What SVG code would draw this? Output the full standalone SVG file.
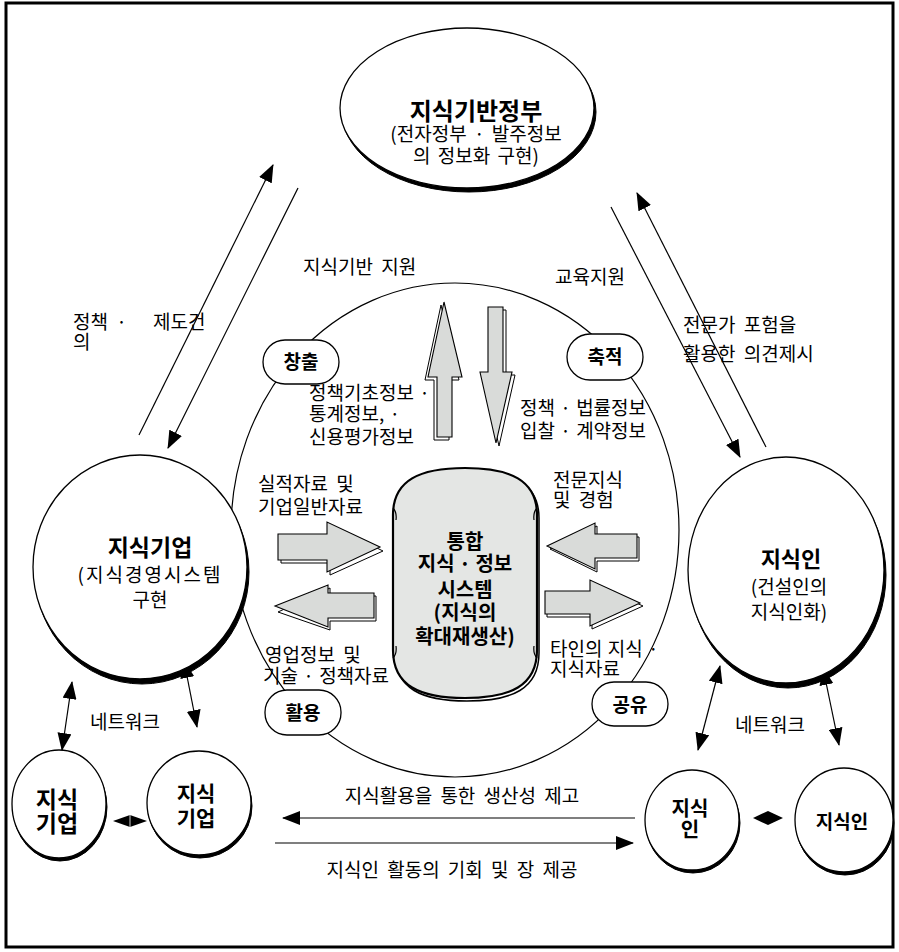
<svg xmlns="http://www.w3.org/2000/svg" width="899" height="952" viewBox="0 0 899 952">
<style>
text{font-family:"Noto Sans CJK KR","Noto Sans",sans-serif;fill:#000}
.t{font-size:19px;word-spacing:4px}
.d{word-spacing:1px}
.m{font-size:19px;word-spacing:3px}
.b{font-weight:bold}
.c{text-anchor:middle}
.ln{stroke:#000;stroke-width:1.2;fill:none}
.sh{fill:#000;stroke:#000}
.el{fill:#fff;stroke:#000;stroke-width:1.3}
.pill{fill:#fff;stroke:#000;stroke-width:1.3}
.ba{fill:#d9dbd9;stroke:#000;stroke-width:1.1;stroke-linejoin:miter}
.bs{fill:#fff;stroke:#000;stroke-width:1}
</style>
<defs>
<marker id="ah" markerUnits="userSpaceOnUse" markerWidth="18" markerHeight="14" viewBox="0 0 18 14" refX="17" refY="7" orient="auto-start-reverse">
<path d="M0,0 L18,7 L0,14 z" fill="#000"/>
</marker>
</defs>
<rect x="6" y="3" width="887" height="944" fill="#fff" stroke="#000" stroke-width="3"/>

<!-- central big circle -->
<ellipse cx="455" cy="530" rx="224" ry="247" fill="none" stroke="#000" stroke-width="1.2"/>

<g id="connectors">
<line class="ln" x1="139" y1="435" x2="273" y2="165" marker-end="url(#ah)"/>
<line class="ln" x1="298" y1="188" x2="168" y2="448" marker-end="url(#ah)"/>
<line class="ln" x1="611" y1="207" x2="740" y2="457" marker-end="url(#ah)"/>
<line class="ln" x1="766" y1="447" x2="637" y2="193" marker-end="url(#ah)"/>
<line class="ln" x1="62" y1="750" x2="72" y2="682" marker-start="url(#ah)" marker-end="url(#ah)"/>
<line class="ln" x1="184" y1="661" x2="197" y2="727" marker-start="url(#ah)" marker-end="url(#ah)"/>
<line class="ln" x1="698" y1="750" x2="720" y2="666" marker-start="url(#ah)" marker-end="url(#ah)"/>
<line class="ln" x1="823" y1="668" x2="839" y2="745" marker-start="url(#ah)" marker-end="url(#ah)"/>
<line class="ln" x1="635" y1="818" x2="283" y2="818" marker-end="url(#ah)"/>
<line class="ln" x1="275" y1="843" x2="633" y2="843" marker-end="url(#ah)"/>
<polygon points="113,821 130,815 147,821 130,827" fill="#000"/>
<line x1="130" y1="815" x2="130" y2="827" stroke="#fff" stroke-width="0.8"/>
<polygon points="753,818 768,811 783,818 768,825" fill="#000"/>

<!-- block arrows -->
<polygon class="bs" points="441,305 425,380 434,380 434,440 449,440 449,380 459,380"/>
<polygon class="ba" points="444,302 428,377 437,377 437,437 452,437 452,377 462,377"/>
<polygon class="bs" points="491,310 506,310 506,375 515,375 499,446 483,375 491,375"/>
<polygon class="ba" points="488,307 503,307 503,372 512,372 496,443 480,372 488,372"/>
<polygon class="bs" points="281,537 330,537 330,525 383,551 330,575 330,563 281,563"/>
<polygon class="ba" points="278,534 327,534 327,522 380,547 327,572 327,560 278,560"/>
<polygon class="bs" points="376,596 330,596 330,588 278,612 330,630 330,621 376,621"/>
<polygon class="ba" points="374,593 328,593 328,585 275,606 328,627 328,618 374,618"/>
<polygon class="bs" points="639,537 597,537 597,526 550,549 597,572 597,561 639,561"/>
<polygon class="ba" points="637,534 595,534 595,523 547,546 595,569 595,558 637,558"/>
<polygon class="bs" points="547,594 592,594 592,583 643,606 592,629 592,617 547,617"/>
<polygon class="ba" points="545,591 590,591 590,580 640,603 590,626 590,614 545,614"/>
</g>

<g id="gov">
<ellipse cx="469" cy="112" rx="127" ry="80" class="sh"/>
<ellipse cx="467" cy="108" rx="127" ry="80" class="el"/>
<text class="c b" x="476" y="120" style="font-size:24px">지식기반정부</text>
<text class="c m d" x="476" y="141">(전자정부 · 발주정보</text>
<text class="c m" x="476" y="163">의 정보화 구현)</text>
</g>

<g id="firm">
<ellipse cx="142" cy="572" rx="107" ry="112" class="sh"/>
<ellipse cx="140" cy="567" rx="107" ry="112" class="el"/>
<text class="c b" x="150" y="556" style="font-size:23px">지식기업</text>
<text class="c m" x="150" y="582" style="letter-spacing:2px">(지식경영시스템</text>
<text class="c m" x="150" y="607">구현</text>
</g>

<g id="person">
<ellipse cx="788" cy="575" rx="98" ry="113" class="sh"/>
<ellipse cx="786" cy="570" rx="98" ry="113" class="el"/>
<text class="c b" x="791" y="567" style="font-size:22px">지식인</text>
<text class="c m" x="789" y="594">(건설인의</text>
<text class="c m" x="789" y="619">지식인화)</text>
</g>

<g id="system">
<path d="M395,518 C395,483 422,471 467,471 C512,471 539,483 539,518 L539,653 C539,689 512,701 467,701 C422,701 395,689 395,653 Z" fill="none" stroke="#000" stroke-width="1.5"/>
<path d="M393,515 C393,480 420,468 465,468 C510,468 537,480 537,515 L537,650 C537,686 510,698 465,698 C420,698 393,686 393,650 Z" fill="#e4e6e4" stroke="#000" stroke-width="2.2"/>
<path d="M393,508 q4,4 3,12 M537,508 q-4,4 -3,12 M393,658 q4,-4 3,-12 M537,658 q-4,-4 -3,-12" fill="none" stroke="#000" stroke-width="1.2"/>
<text class="c b" x="465" y="549" style="font-size:20px">통합</text>
<text class="c b" x="465" y="571" style="font-size:20px">지식 · 정보</text>
<text class="c b" x="465" y="597" style="font-size:20px">시스템</text>
<text class="c b" x="465" y="620" style="font-size:20px">(지식의</text>
<text class="c b" x="465" y="644" style="font-size:20px">확대재생산)</text>
</g>

<g id="create"><rect class="pill" x="263" y="340" width="76" height="44" rx="22"/><text class="c b" x="301" y="369" style="font-size:19px">창출</text></g>
<g id="accum"><rect class="pill" x="567" y="334" width="76" height="46" rx="23"/><text class="c b" x="605" y="364" style="font-size:19px">축적</text></g>
<g id="use"><rect class="pill" x="265" y="690" width="76" height="45" rx="22"/><text class="c b" x="303" y="720" style="font-size:19px">활용</text></g>
<g id="share"><rect class="pill" x="592" y="682" width="76" height="44" rx="22"/><text class="c b" x="630" y="712" style="font-size:19px">공유</text></g>

<g id="firm1">
<ellipse cx="60" cy="807" rx="47" ry="54" class="sh"/>
<ellipse cx="59" cy="804" rx="47" ry="54" class="el"/>
<text class="c b" x="57" y="808" style="font-size:23px">지식</text>
<text class="c b" x="57" y="832" style="font-size:23px">기업</text>
</g>
<g id="firm2">
<ellipse cx="200" cy="806" rx="52" ry="52" class="sh"/>
<ellipse cx="199" cy="803" rx="52" ry="52" class="el"/>
<text class="c b" x="196" y="801" style="font-size:21px">지식</text>
<text class="c b" x="196" y="826" style="font-size:21px">기업</text>
</g>
<g id="person1">
<ellipse cx="693" cy="823" rx="47" ry="50" class="sh"/>
<ellipse cx="692" cy="820" rx="47" ry="50" class="el"/>
<text class="c b" x="690" y="816" style="font-size:20px">지식</text>
<text class="c b" x="690" y="837" style="font-size:20px">인</text>
</g>
<g id="person2">
<ellipse cx="845" cy="823" rx="49" ry="52" class="sh"/>
<ellipse cx="844" cy="820" rx="49" ry="52" class="el"/>
<text class="c b" x="842" y="829" style="font-size:19px">지식인</text>
</g>

<g id="labels">
<text class="t" x="303" y="274">지식기반 지원</text>
<text class="t" x="555" y="284">교육지원</text>
<text class="t" x="73" y="329">정책 ·<tspan x="153">제도건</tspan><tspan x="73" y="349">의</tspan></text>
<text class="t d" x="309" y="400">정책기초정보 ·</text>
<text class="t d" x="309" y="421">통계정보, ·</text>
<text class="t" x="309" y="444">신용평가정보</text>
<text class="t d" x="520" y="415">정책 · 법률정보</text>
<text class="t d" x="520" y="438">입찰 · 계약정보</text>
<text class="t" x="683" y="332">전문가 포험을</text>
<text class="t" x="683" y="361">활용한 의견제시</text>
<text class="t" x="258" y="491">실적자료 및</text>
<text class="t" x="258" y="514">기업일반자료</text>
<text class="t" x="265" y="662">영업정보 및</text>
<text class="t d" x="263" y="683">기술 · 정책자료</text>
<text class="t" x="553" y="487">전문지식</text>
<text class="t" x="553" y="507">및 경험</text>
<text class="t d" x="550" y="656">타인의 지식 ·</text>
<text class="t" x="550" y="676">지식자료</text>
<text class="t" x="90" y="729">네트워크</text>
<text class="t" x="735" y="732">네트워크</text>
<text class="t c" x="462" y="803">지식활용을 통한 생산성 제고</text>
<text class="t c" x="452" y="877">지식인 활동의 기회 및 장 제공</text>
</g>
</svg>
